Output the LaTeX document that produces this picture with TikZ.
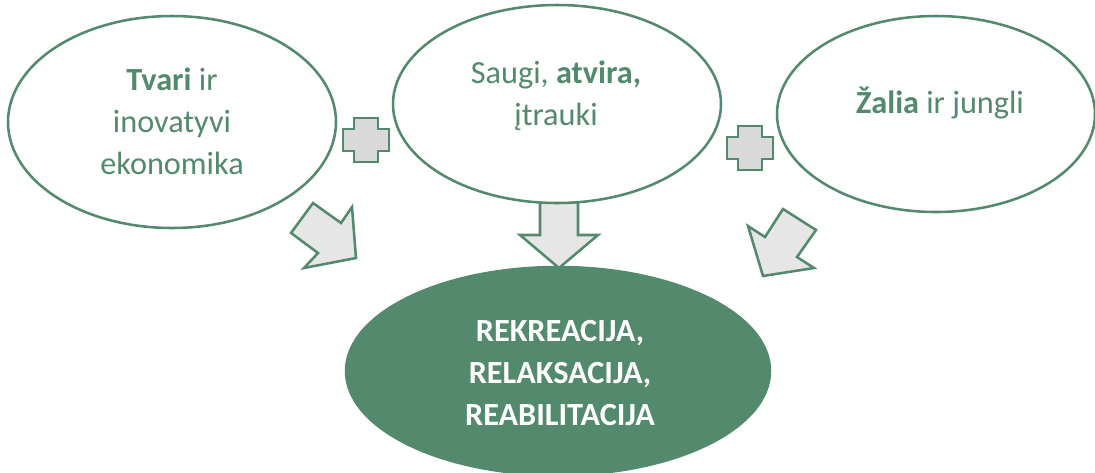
\documentclass[tikz,border=0pt]{standalone}
\usepackage{fontspec}
\setmainfont{Carlito}
\usetikzlibrary{shapes.geometric}
\definecolor{leafgreen}{RGB}{83,137,108}
\definecolor{arrowgray}{RGB}{230,230,230}
\definecolor{plusgray}{RGB}{217,217,217}
\tikzstyle{block}=[draw=leafgreen,line width=1.9pt,fill=arrowgray]

\begin{document}
\begin{tikzpicture}[x=0.75pt,y=-0.75pt,line join=miter,
                    main node/.style={ellipse,draw=leafgreen,line width=1.9pt,inner sep=0pt,fill=white},
                    txt/.style={text=leafgreen,align=center,font=\fontsize{24.2}{31.5}\selectfont}]
  \useasboundingbox (0,0) rectangle (1095,472);
  \clip (0,0) rectangle (1095,472);
  % bottom
  \node[main node,fill=leafgreen,minimum width=318pt,minimum height=156pt] (4) at (558,371) {};
  \node[txt,text=white,font=\fontsize{24.2}{31.5}\selectfont\bfseries] (t4) at (560,373)
    {REKREACIJA,\\RELAKSACIJA,\\REABILITACIJA};
  % arrows
  \draw[block] (313,203) -- (341,223) -- (352,207) -- (356,258) -- (304,268) -- (318,253) -- (291,233) -- cycle;
  \draw[block] (540,202) -- (578,202) -- (578,235) -- (598,235) -- (559,268) -- (520,235) -- (540,235) -- cycle;
  \draw[block] (783,209) -- (816,230) -- (797,257) -- (814,268) -- (763,276) -- (748,226) -- (765,237) -- cycle;
  % plus signs
  \foreach \cx/\cy in {366/140, 750/148}
    \draw[block,fill=plusgray] (\cx-12,\cy-22) -- ++(24,0) -- ++(0,11) -- ++(11,0) -- ++(0,22) -- ++(-11,0)
      -- ++(0,11) -- ++(-24,0) -- ++(0,-11) -- ++(-11,0) -- ++(0,-22) -- ++(11,0) -- cycle;
  % top
  \node[main node,minimum width=246pt,minimum height=159pt] (1) at (172,122) {};
  \node[main node,minimum width=246pt,minimum height=148.5pt] (2) at (557,104) {};
  \node[main node,minimum width=238.5pt,minimum height=147pt] (3) at (936,114) {};
  \node[txt] (t1) at (172,121) {\textbf{Tvari} ir\\inovatyvi\\ekonomika};
  \node[txt] (t2) at (556,96) {Saugi, \textbf{atvira,}\\įtrauki};
  \node[txt,anchor=base] (t3) at (940,113) {\textbf{Žalia} ir jungli};
\end{tikzpicture}
\end{document}
